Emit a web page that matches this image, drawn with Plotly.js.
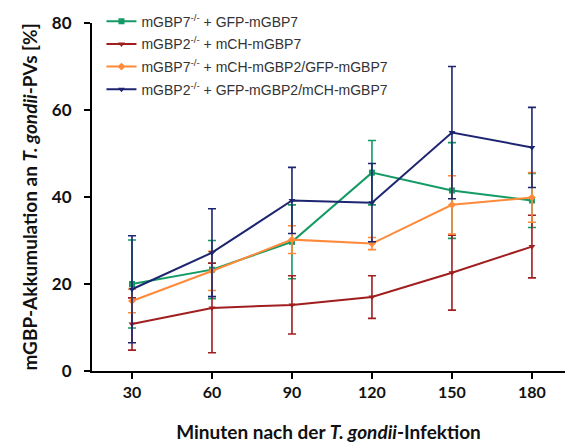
<!DOCTYPE html>
<html>
<head>
<meta charset="utf-8">
<script src="https://cdn.plot.ly/plotly-3.0.1.min.js"></script>
<style>html,body{margin:0;padding:0;background:#fff;}#chart{width:570px;height:443px;}</style>
</head>
<body>
<div id="chart"></div>
<script>
const minutes = [30, 60, 90, 120, 150, 180];
const tickLabels = ['30', '60', '90', '120', '150', '180'];

const names = [
  'mGBP7<sup>-/-</sup> + GFP-mGBP7',
  'mGBP2<sup>-/-</sup> + mCH-mGBP7',
  'mGBP7<sup>-/-</sup> + mCH-mGBP2/GFP-mGBP7',
  'mGBP2<sup>-/-</sup> + GFP-mGBP2/mCH-mGBP7'
];

const greenMean = [20.0, 23.3, 29.7, 45.6, 41.5, 39.2];
const greenErr  = [10.1, 6.7, 8.5, 7.4, 11.0, 6.2];

const redMean = [10.8, 14.5, 15.2, 17.0, 22.6, 28.6];
const redErr  = [6.0, 10.3, 6.7, 4.9, 8.6, 7.2];

const orangeMean = [16.1, 23.0, 30.2, 29.3, 38.2, 39.9];
const orangeErr  = [2.7, 4.5, 3.2, 1.4, 6.7, 5.7];

const navyMean = [18.8, 27.2, 39.2, 38.7, 54.8, 51.4];
const navyErr  = [12.3, 10.1, 7.6, 9.0, 15.2, 9.2];

const colors = ['#149a64', '#a11e1f', '#ff8a3a', '#1d2570'];
const symbols = ['square', 'triangle-down', 'diamond', 'triangle-down'];
const means = [greenMean, redMean, orangeMean, navyMean];
const errs = [greenErr, redErr, orangeErr, navyErr];

const traces = means.map((m, i) => ({
  type: 'scatter',
  mode: 'lines+markers',
  x: minutes,
  y: m,
  name: names[i],
  legendgroup: 'g' + i,
  line: {color: colors[i], width: 2},
  marker: {color: colors[i], symbol: symbols[i], size: 6},
  error_y: {type: 'data', array: errs[i], visible: true, color: colors[i], thickness: 1.6, width: 4}
}));

const layout = {
  width: 570,
  height: 443,
  margin: {l: 92, r: 5, t: 23, b: 72},
  paper_bgcolor: '#ffffff',
  plot_bgcolor: '#ffffff',
  showlegend: true,
  legend: {
    x: 0.02, y: 1.05, xanchor: 'left', yanchor: 'top',
    bgcolor: 'rgba(0,0,0,0)',
    font: {family: 'Liberation Sans, Arial, sans-serif', size: 14, color: '#333333'},
    tracegroupgap: 1.5,
    itemwidth: 30
  },
  xaxis: {
    range: [15, 192.4],
    tickmode: 'array',
    tickvals: minutes,
    ticktext: tickLabels,
    showgrid: false,
    zeroline: false,
    showline: true,
    linecolor: '#000000',
    linewidth: 2,
    ticks: 'outside',
    ticklen: 6,
    tickwidth: 2,
    tickcolor: '#000000',
    tickfont: {family: 'Lato, sans-serif', size: 16, color: '#111111', weight: 'bold'},
    title: {
      text: 'Minuten nach der <i>T. gondii</i>-Infektion',
      font: {family: 'Lato, sans-serif', size: 19, color: '#111111', weight: 'bold'},
      standoff: 26
    }
  },
  yaxis: {
    range: [0, 80],
    tickvals: [0, 20, 40, 60, 80],
    showgrid: false,
    zeroline: false,
    showline: true,
    linecolor: '#000000',
    linewidth: 2,
    ticks: 'outside',
    ticklen: 6,
    tickwidth: 2,
    tickcolor: '#000000',
    ticklabelstandoff: 9,
    tickfont: {family: 'Lato, sans-serif', size: 17, color: '#111111', weight: 'bold'},
    title: {
      text: 'mGBP-Akkumulation an <i>T. gondii</i>-PVs [%]',
      font: {family: 'Lato, sans-serif', size: 19, color: '#111111', weight: 'bold'},
      standoff: 9
    }
  }
};

Plotly.newPlot('chart', traces, layout, {displayModeBar: false, staticPlot: true});
</script>
</body>
</html>
